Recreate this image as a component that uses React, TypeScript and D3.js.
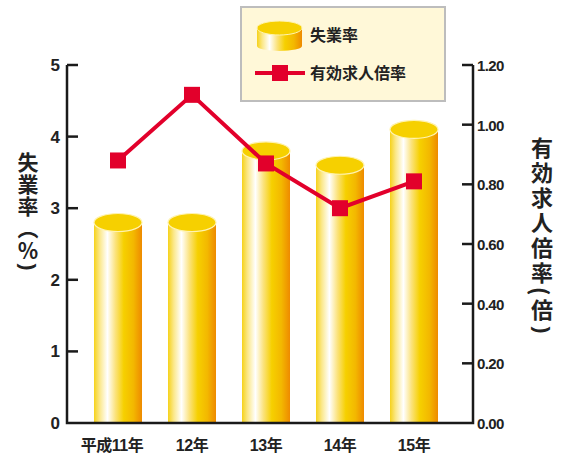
import React from "react";
import * as d3 from "d3";

const categories = ["平成11年", "12年", "13年", "14年", "15年"];
const unemployment = [2.8, 2.8, 3.8, 3.6, 4.1];
const jobRatio = [0.88, 1.1, 0.87, 0.72, 0.81];
const leftTicks = [0, 1, 2, 3, 4, 5];
const rightTicks = [0, 0.2, 0.4, 0.6, 0.8, 1.0, 1.2];
const legendLabels = ["失業率", "有効求人倍率"];
const leftTitle = ["失業率（％", ")"];
const rightTitle = ["有効求人倍率(倍", ")"];

const W = 561, H = 462;
const axL = 67, axR = 473, axTop = 65, axBottom = 423;

export default function App() {
  const x = d3.scalePoint<string>().domain(categories).range([118, 414]);
  const yL = d3.scaleLinear().domain([0, 5]).range([axBottom, axTop]);
  const yR = d3.scaleLinear().domain([0, 1.2]).range([axBottom, axTop]);
  const barW = 48;
  const ry = 9;
  const line = d3
    .line<number>()
    .x((_, i) => x(categories[i]) as number)
    .y((d) => yR(d));
  const font = "'Liberation Sans', 'Noto Sans CJK JP', sans-serif";
  const cjk = "'Noto Sans CJK JP', sans-serif";
  const red = "#e2002b";
  const axisColor = "#1a1a1a";
  const vStyle = { writingMode: "vertical-rl" as any, textOrientation: "mixed" as any };

  return (
    <svg
      width={W}
      height={H}
      style={{ position: "absolute", left: 0, top: 0, background: "#fff" }}
    >
      <defs>
        <linearGradient id="cyl" x1="0" x2="1" y1="0" y2="0">
          <stop offset="0%" stopColor="#f6d21a" />
          <stop offset="12%" stopColor="#fbe88a" />
          <stop offset="28%" stopColor="#ffffff" />
          <stop offset="45%" stopColor="#fbe27a" />
          <stop offset="62%" stopColor="#f6d000" />
          <stop offset="82%" stopColor="#f3b800" />
          <stop offset="100%" stopColor="#ee8a00" />
        </linearGradient>
      </defs>

      {/* legend */}
      <rect x={241} y={7} width={204} height={94} fill="#fff8d8" stroke="#bdbdbd" strokeWidth={2} />
      <g>
        <rect x={257} y={28} width={45} height={18} fill="url(#cyl)" />
        <ellipse cx={279.5} cy={46} rx={22.5} ry={5} fill="url(#cyl)" />
        <ellipse cx={279.5} cy={28} rx={22.5} ry={7} fill="#f6d000" stroke="#fff4b0" strokeWidth={1} />
        <text x={310} y={41} fontFamily={cjk} fontWeight={700} fontSize={16} fill="#222">
          {legendLabels[0]}
        </text>
        <line x1={255} x2={305} y1={73} y2={73} stroke={red} strokeWidth={4} />
        <rect x={272} y={65} width={16} height={16} fill={red} />
        <text x={310} y={79} fontFamily={cjk} fontWeight={700} fontSize={16} fill="#222">
          {legendLabels[1]}
        </text>
      </g>

      {/* bars */}
      {unemployment.map((v, i) => {
        const cx = x(categories[i]) as number;
        const top = yL(v);
        return (
          <g key={i}>
            <rect x={cx - barW / 2} y={top} width={barW} height={axBottom - top} fill="url(#cyl)" />
            <ellipse cx={cx} cy={top} rx={barW / 2} ry={ry} fill="#f6d000" stroke="#fff3b0" strokeWidth={1.2} />
          </g>
        );
      })}

      {/* line */}
      <path d={line(jobRatio) || ""} fill="none" stroke={red} strokeWidth={4} strokeLinejoin="miter" />
      {jobRatio.map((v, i) => (
        <rect
          key={i}
          x={(x(categories[i]) as number) - 8}
          y={yR(v) - 8}
          width={16}
          height={16}
          fill={red}
        />
      ))}

      {/* axes */}
      <path
        d={`M${axL},${axTop}V${axBottom}H${axR}V${axTop}`}
        fill="none"
        stroke={axisColor}
        strokeWidth={2.5}
      />
      {leftTicks.map((t) => (
        <g key={"l" + t}>
          {t > 0 && (
            <line x1={axL} x2={axL + 11} y1={yL(t)} y2={yL(t)} stroke={axisColor} strokeWidth={2.5} />
          )}
          <text
            x={60}
            y={yL(t) + 6}
            textAnchor="end"
            fontFamily={font}
            fontWeight={700}
            fontSize={17}
            fill="#222"
          >
            {t}
          </text>
        </g>
      ))}
      {rightTicks.map((t) => (
        <g key={"r" + t}>
          {t > 0 && (
            <line x1={axR - 11} x2={axR} y1={yR(t)} y2={yR(t)} stroke={axisColor} strokeWidth={2.5} />
          )}
          <text
            x={477}
            y={yR(t) + 6}
            fontFamily={font}
            fontWeight={700}
            fontSize={15}
            letterSpacing={-0.6}
            fill="#222"
          >
            {d3.format(".2f")(t)}
          </text>
        </g>
      ))}

      {/* x labels */}
      {categories.map((c, i) => (
        <text
          key={c}
          x={(x(c) as number) - (i === 0 ? 6 : 0)}
          y={451}
          textAnchor="middle"
          fontFamily={font}
          fontWeight={700}
          fontSize={16}
          letterSpacing={-0.5}
          fill="#222"
        >
          {c}
        </text>
      ))}

      {/* axis titles */}
      <text x={28} y={152} style={vStyle} fontFamily={cjk} fontWeight={700} fontSize={21} letterSpacing={1} fill="#222">
        {leftTitle[0]}
      </text>
      <text
        transform="translate(28,267) rotate(90)"
        textAnchor="middle"
        dominantBaseline="central"
        fontFamily="'Liberation Sans', sans-serif"
        fontWeight={700}
        fontSize={21}
        fill="#222"
      >
        {leftTitle[1]}
      </text>
      <text x={542} y={137} style={vStyle} fontFamily={cjk} fontWeight={700} fontSize={22} letterSpacing={3} fill="#222">
        {rightTitle[0]}
      </text>
      <text
        transform="translate(542,330) rotate(90)"
        textAnchor="middle"
        dominantBaseline="central"
        fontFamily="'Liberation Sans', sans-serif"
        fontWeight={700}
        fontSize={21}
        fill="#222"
      >
        {rightTitle[1]}
      </text>
    </svg>
  );
}
